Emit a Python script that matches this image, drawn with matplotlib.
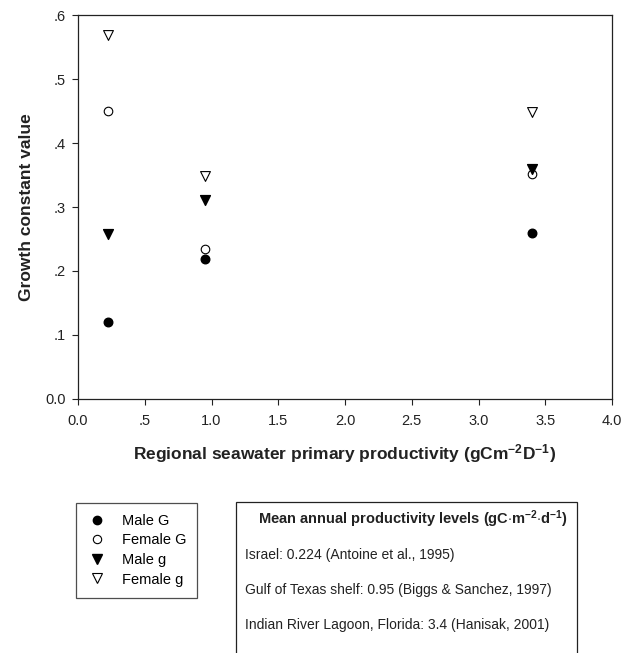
import numpy as np
import matplotlib
matplotlib.use("Agg")
import matplotlib.pyplot as plt
from matplotlib.lines import Line2D
from matplotlib.patches import Rectangle

plt.rcParams['font.family'] = ['Liberation Sans', 'DejaVu Sans']
plt.rcParams['mathtext.fontset'] = 'custom'
plt.rcParams['mathtext.rm'] = 'Liberation Sans'
plt.rcParams['mathtext.bf'] = 'Liberation Sans:bold'
plt.rcParams['mathtext.default'] = 'regular'

# productivity of each region (x) and growth constants
productivity = [0.224, 0.95, 3.4]
male_G = [0.120, 0.218, 0.260]
female_G = [0.450, 0.234, 0.352]
male_g = [0.258, 0.311, 0.359]
female_g = [0.569, 0.349, 0.448]

series = ['Male G', 'Female G', 'Male g', 'Female g']
xticks = [0.0, 0.5, 1.0, 1.5, 2.0, 2.5, 3.0, 3.5, 4.0]
xticklabels = ['0.0', '.5', '1.0', '1.5', '2.0', '2.5', '3.0', '3.5', '4.0']
yticks = [0.0, 0.1, 0.2, 0.3, 0.4, 0.5, 0.6]
yticklabels = ['0.0', '.1', '.2', '.3', '.4', '.5', '.6']

notes = ['Israel: 0.224 (Antoine et al., 1995)',
         'Gulf of Texas shelf: 0.95 (Biggs & Sanchez, 1997)',
         'Indian River Lagoon, Florida: 3.4 (Hanisak, 2001)']

fig = plt.figure(figsize=(6.25, 6.53), dpi=100)
ax = fig.add_axes([0.1248, 0.389, 0.8544, 0.588])

ax.scatter(productivity, male_G, s=38, marker='o', c='black', label='Male G', zorder=3)
ax.scatter(productivity, female_G, s=38, marker='o', facecolors='white', edgecolors='black', linewidths=0.8, label='Female G', zorder=3)
ax.scatter(productivity, male_g, s=50, marker='v', c='black', label='Male g', zorder=3)
ax.scatter(productivity, female_g, s=50, marker='v', facecolors='white', edgecolors='black', linewidths=0.8, label='Female g', zorder=3)

ax.set_xlim(0, 4)
ax.set_ylim(0, 0.6)
ax.set_xticks(xticks)
ax.set_xticklabels(xticklabels)
ax.set_yticks(yticks)
ax.set_yticklabels(yticklabels)
ax.tick_params(direction='out', length=4, width=0.8, labelsize=10.5, colors='#222222')
ax.tick_params(axis='x', pad=7)
ax.tick_params(axis='y', pad=5)
for sp in ax.spines.values():
    sp.set_linewidth(0.9)
    sp.set_color('#222222')

ax.set_xlabel('Regional seawater primary productivity (gCm$\\mathbf{^{-2}}$D$\\mathbf{^{-1}}$)',
              fontsize=12.5, fontweight='bold', labelpad=10, color='#222222')
ax.set_ylabel('Growth constant value', fontsize=12.5, fontweight='bold', labelpad=8, color='#222222')

# legend box
handles = [Line2D([], [], ls='none', marker='o', ms=6, mfc='black', mec='black'),
           Line2D([], [], ls='none', marker='o', ms=6, mfc='white', mec='black', mew=0.8),
           Line2D([], [], ls='none', marker='v', ms=7, mfc='black', mec='black'),
           Line2D([], [], ls='none', marker='v', ms=7, mfc='white', mec='black', mew=0.8)]
leg = fig.legend(handles, series, loc='upper left', bbox_to_anchor=(76 / 625, 1 - 503 / 653),
                 frameon=True, fancybox=False, fontsize=10.5, handletextpad=1.0,
                 labelspacing=0.38, borderpad=0.75, handlelength=1.4, borderaxespad=0)
leg.get_frame().set_edgecolor('#222222')
leg.get_frame().set_linewidth(0.9)

# productivity note box
fig.patches.append(Rectangle((236 / 625, -0.05), (577 - 236) / 625, (653 - 502) / 653 + 0.05,
                             transform=fig.transFigure, fill=False, ec='#222222', lw=0.9))
fig.text(413 / 625, 1 - 519 / 653,
         'Mean annual productivity levels (gC$\\mathbf{\\cdot}$m$\\mathbf{^{-2}}$$\\mathbf{\\cdot}$d$\\mathbf{^{-1}}$)',
         ha='center', va='center', fontsize=10.5, fontweight='bold', color='#222222')
for i, line in enumerate(notes):
    fig.text(245 / 625, 1 - (555 + 35 * i) / 653, line, ha='left', va='center', fontsize=10, color='#222222')

fig.savefig('out.png', dpi=100)
